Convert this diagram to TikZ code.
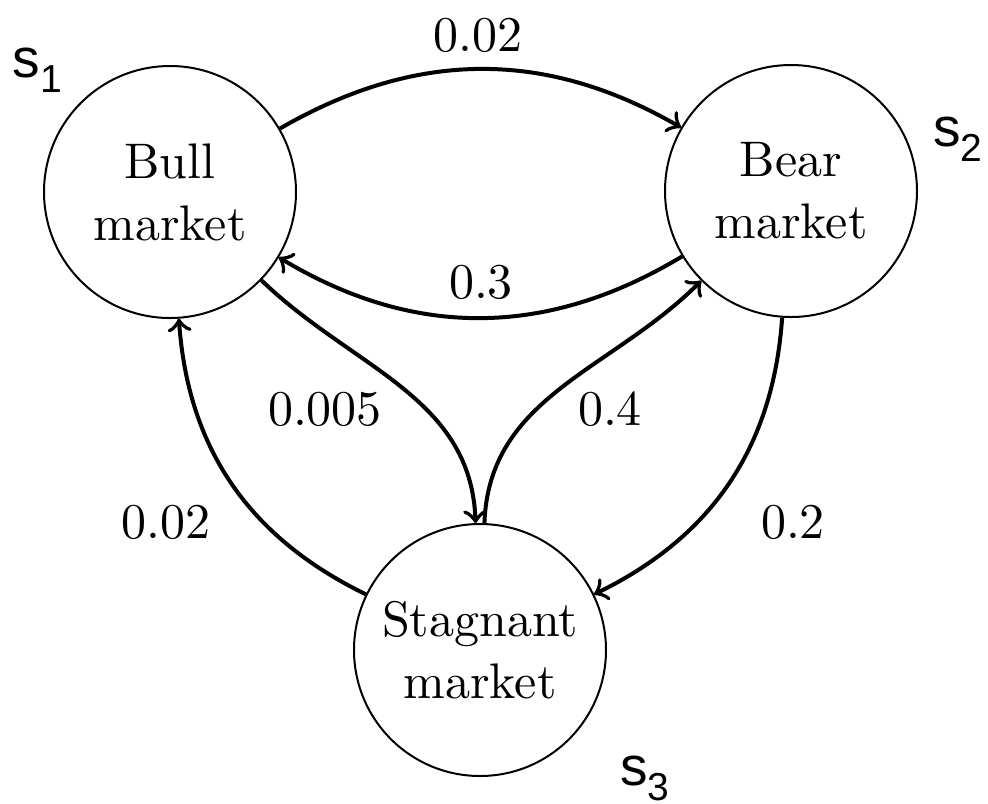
\documentclass[tikz,border=0pt]{standalone}
\usepackage{fontspec}
\newfontfamily\arialfont{Liberation Sans}
\begin{document}
\begin{tikzpicture}[x=0.2pt,y=0.2pt,
  state/.style={circle,draw,line width=0.4pt,minimum size=50.4pt,inner sep=0pt,align=center,font=\fontsize{10}{12.4}\selectfont},
  trans/.style={->,line width=0.8pt},
  prob/.style={inner sep=0pt,font=\fontsize{10}{12}\selectfont},
  slabel/.style={inner sep=0pt,anchor=base west,font=\arialfont\fontsize{11}{13}\selectfont}]
\useasboundingbox (0,0) rectangle (988,-803);
\node[state] (bull) at (170,-192) {Bull\\market};
\node[state] (bear) at (791,-191) {Bear\\market};
\node[state] (stag) at (480,-650) {Stagnant\\market};

\draw[trans] (bull) to[out=30,in=150] (bear);
\draw[trans] (bear) to[out=211,in=-31] (bull);
\draw[trans] (bull) to[out=-44,in=92] (stag);
\draw[trans] (stag) to[out=88,in=225] (bear);
\draw[trans] (stag) to[out=154,in=-86] (bull);
\draw[trans] (bear) to[out=-94,in=26] (stag);

\node[prob] (p12) at (478,-35) {0.02};
\node[prob] (p21) at (481,-282) {0.3};
\node[prob] (p13) at (325,-409) {0.005};
\node[prob] (p32) at (610,-409) {0.4};
\node[prob] (p31) at (166,-522) {0.02};
\node[prob] (p23) at (793,-522) {0.2};

\node[slabel] (s1) at (12,-77) {s\raisebox{-3pt}{\fontsize{7.8}{9}\selectfont 1}};
\node[slabel] (s2) at (932,-146) {s\raisebox{-3pt}{\fontsize{7.8}{9}\selectfont 2}};
\node[slabel] (s3) at (619,-785) {s\raisebox{-3pt}{\fontsize{7.8}{9}\selectfont 3}};
\end{tikzpicture}
\end{document}
